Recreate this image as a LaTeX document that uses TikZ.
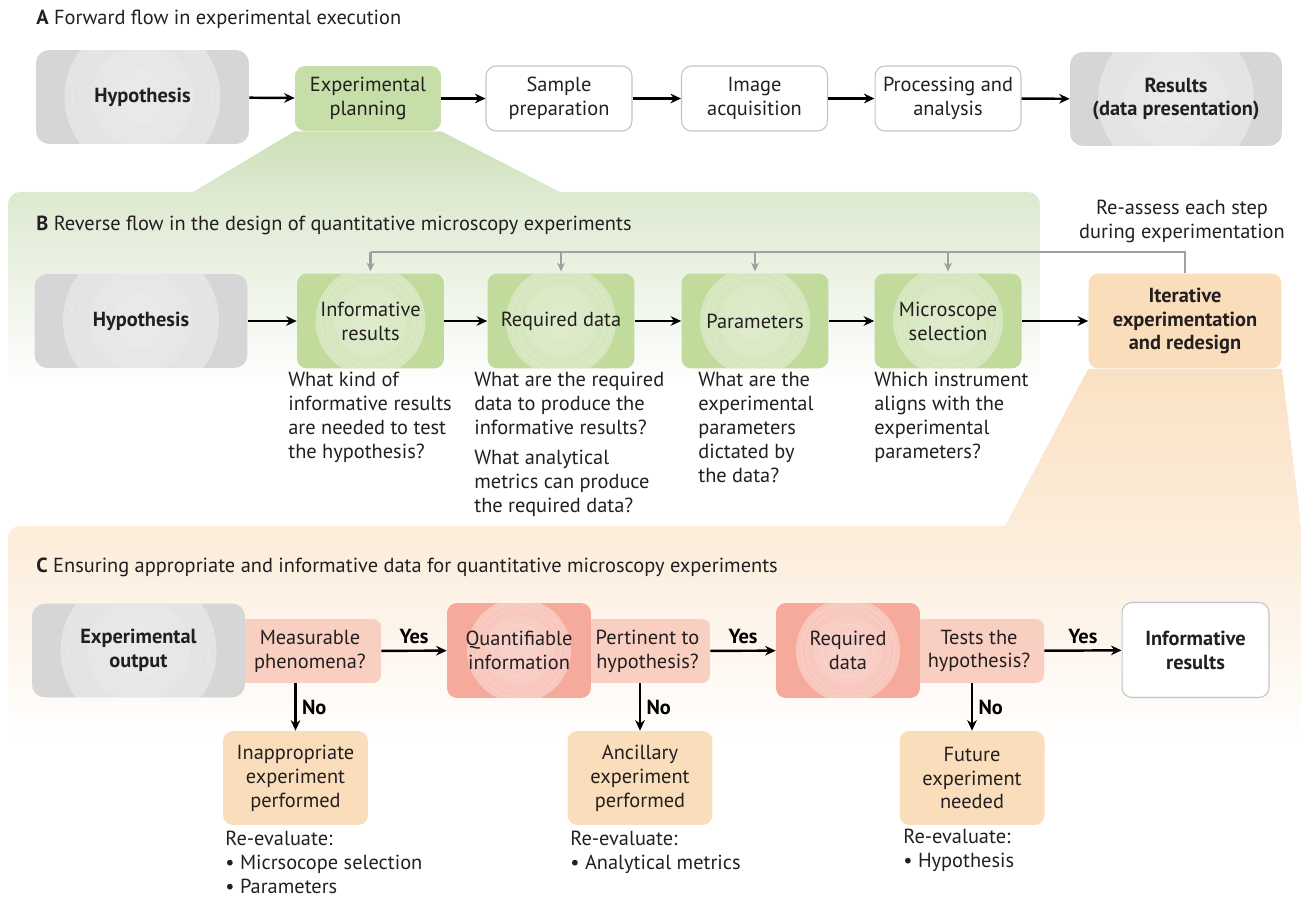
\documentclass[tikz,border=0pt]{standalone}
\usepackage{fontspec}
\setmainfont{PT Sans}
\usetikzlibrary{arrows.meta}

\definecolor{boxgray}{RGB}{214,214,214}
\definecolor{boxgreen}{RGB}{193,219,157}
\definecolor{plangreen}{RGB}{198,222,168}
\definecolor{boxorange}{RGB}{250,221,186}
\definecolor{tabpink}{RGB}{249,207,193}
\definecolor{boxsalmon}{RGB}{245,170,156}
\definecolor{linegray}{RGB}{195,195,195}
\definecolor{backgray}{RGB}{160,160,160}
\definecolor{panelgreen}{RGB}{221,233,208}
\definecolor{trapgreen}{RGB}{205,224,183}
\definecolor{panelorange}{RGB}{252,236,217}
\definecolor{traporange}{RGB}{250,225,195}
\definecolor{inktext}{RGB}{35,31,32}

\newcommand{\boxfont}{\fontsize{11.6}{13.6}\selectfont}

\tikzset{
  rings/.style={path picture={
      \fill[white,opacity=.35] (path picture bounding box.center) circle[radius=#1];
      \fill[white,opacity=.12] (path picture bounding box.center) circle[radius=0.66*#1];
      \fill[white,opacity=.10] (path picture bounding box.center) circle[radius=0.36*#1];
      \foreach \f in {0.9,0.8,0.5}
        \draw[white,opacity=.25,line width=0.3pt] (path picture bounding box.center) circle[radius=\f*#1];}},
  box/.style={rounded corners=0.2cm, minimum width=2.92cm, minimum height=1.3cm,
    align=center, inner sep=2pt},
  graybox/.style={box, fill=boxgray, minimum width=4.26cm, minimum height=1.88cm,
    rounded corners=0.26cm, font=\boxfont\bfseries, rings=1.56cm},
  greenbox/.style={box, fill=boxgreen, minimum width=2.94cm, minimum height=1.9cm, rings=1.1cm},
  plainbox/.style={box, draw=linegray, line width=0.6pt, fill=white},
  salmonbox/.style={box, fill=boxsalmon, minimum width=2.88cm, minimum height=1.9cm, rings=1.04cm},
  tabbox/.style={box, fill=tabpink, minimum height=1.28cm, rounded corners=0.16cm},
  outbox/.style={box, fill=boxorange, minimum width=2.9cm, minimum height=1.88cm},
  note/.style={anchor=north west, align=left, inner sep=0pt},
  title/.style={anchor=west, inner sep=0pt},
  lbl/.style={font=\boxfont\bfseries, inner sep=3pt},
  arr/.style={-{Stealth[length=6pt,width=5.5pt]}, line width=1.4pt, black},
  back/.style={draw=backgray, line width=1.4pt},
  backarr/.style={back, -{Stealth[length=5pt,width=4.5pt]}},
}

\begin{document}
\begin{tikzpicture}[x=0.02cm, y=-0.02cm, font=\boxfont, text=inktext]
\useasboundingbox (0,0) rectangle (1301,898);

\shade[top color=panelgreen, bottom color=white, rounded corners=0.24cm] (8,192) rectangle (1040,385);
\shade[top color=panelorange, bottom color=white, rounded corners=0.24cm] (8,526) rectangle (1340,745);

% A
\node[title] (titleA) at (36,19) {\textbf{A} Forward flow in experimental execution};
\node[graybox] (hypA) at (142.5,97) {Hypothesis};
\node[box, fill=plangreen] (planA) at (368,98.5) {Experimental\\planning};
\node[plainbox] (prepA) at (559,98.5) {Sample\\preparation};
\node[plainbox] (acqA) at (754.5,98.5) {Image\\acquisition};
\node[plainbox] (procA) at (948,98.5) {Processing and\\analysis};
\node[graybox, minimum width=4.24cm] (resA) at (1176,99) {Results\\(data presentation)};
\draw[arr] (hypA) -- (planA);
\draw[arr] (planA) -- (prepA);
\draw[arr] (prepA) -- (acqA);
\draw[arr] (acqA) -- (procA);
\draw[arr] (procA) -- (resA);

\shade[top color=trapgreen, bottom color=panelgreen] (planA.south west) -- (planA.south east)
  -- (560,192) -- (193,192) -- cycle;

% B
\node[title] (titleB) at (36,225) {\textbf{B} Reverse flow in the design of quantitative microscopy experiments};
\node[graybox] (hypB) at (141,321) {Hypothesis};
\node[greenbox] (infB) at (370.5,321) {Informative\\results};
\node[greenbox] (reqB) at (561,321) {Required data};
\node[greenbox] (parB) at (755,321) {Parameters};
\node[greenbox] (micB) at (948,321) {Microscope\\selection};
\node[box, fill=boxorange, minimum width=3.86cm, minimum height=1.9cm, font=\boxfont\bfseries] (itB) at (1185,321)
  {Iterative\\experimentation\\and redesign};
\draw[arr] (hypB) -- (infB);
\draw[arr] (infB) -- (reqB);
\draw[arr] (reqB) -- (parB);
\draw[arr] (parB) -- (micB);
\draw[arr] (micB) -- (itB);

\coordinate (top) at (0,252);
\draw[back] (itB.north) -- (itB.north |- top) -- (infB.north |- top);
\foreach \n in {infB,reqB,parB,micB}
  \draw[backarr] (\n.north |- top) -- ([yshift=1pt]\n.north);
\node[align=center, inner sep=0pt] (reassess) at (1182,221) {Re-assess each step\\during experimentation};

\node[note] (qinf) at (288,372) {What kind of\\informative results\\are needed to test\\the hypothesis?};
\node[note] (qreq) at (474,372) {What are the required\\data to produce the\\informative results?\\[3.4pt]What analytical\\metrics can produce\\the required data?};
\node[note] (qpar) at (698,372) {What are the\\experimental\\parameters\\dictated by\\the data?};
\node[note] (qmic) at (874,372) {Which instrument\\aligns with the\\experimental\\parameters?};

\shade[top color=traporange, bottom color=panelorange] (itB.south west) -- (itB.south east)
  -- (1301,526) -- (1005,526) -- cycle;

% C
\node[title] (titleC) at (36,567) {\textbf{C} Ensuring appropriate and informative data for quantitative microscopy experiments};
\node[tabbox, minimum width=2.84cm] (measC) at (310,651) {Measurable\\phenomena?};
\node[tabbox, minimum width=2.5cm] (pertC) at (647.5,651) {Pertinent to\\hypothesis?};
\node[tabbox, minimum width=2.6cm] (testC) at (979,651) {Tests the\\hypothesis?};
\node[graybox] (expC) at (138.5,650.5) {Experimental\\output};
\node[salmonbox] (quantC) at (519,650.5) {Quantifiable\\information};
\node[salmonbox] (reqC) at (848,650.5) {Required\\data};
\node[plainbox, minimum width=2.94cm, minimum height=1.9cm, font=\boxfont\bfseries] (infC) at (1195.5,650)
  {Informative\\results};

\node[outbox] (inapC) at (295.5,778) {Inappropriate\\experiment\\performed};
\node[outbox] (ancC) at (640,778) {Ancillary\\experiment\\performed};
\node[outbox] (futC) at (972,778) {Future\\experiment\\needed};

\draw[arr] (measC) -- node[lbl, above] (yes1) {Yes} (quantC);
\draw[arr] (pertC) -- node[lbl, above] (yes2) {Yes} (reqC);
\draw[arr] (testC) -- node[lbl, above] (yes3) {Yes} (infC);
\draw[arr] (measC.south -| inapC.north) -- node[lbl, right] (no1) {No} (inapC.north);
\draw[arr] (pertC.south -| ancC.north) -- node[lbl, right] (no2) {No} (ancC.north);
\draw[arr] (testC.south -| futC.north) -- node[lbl, right] (no3) {No} (futC.north);

\node[note] (rinap) at (225,831) {Re-evaluate:\\\textbullet\ Micrsocope selection\\\textbullet\ Parameters};
\node[note] (ranc) at (570,831) {Re-evaluate:\\\textbullet\ Analytical metrics};
\node[note] (rfut) at (903,829) {Re-evaluate:\\\textbullet\ Hypothesis};

\end{tikzpicture}
\end{document}
